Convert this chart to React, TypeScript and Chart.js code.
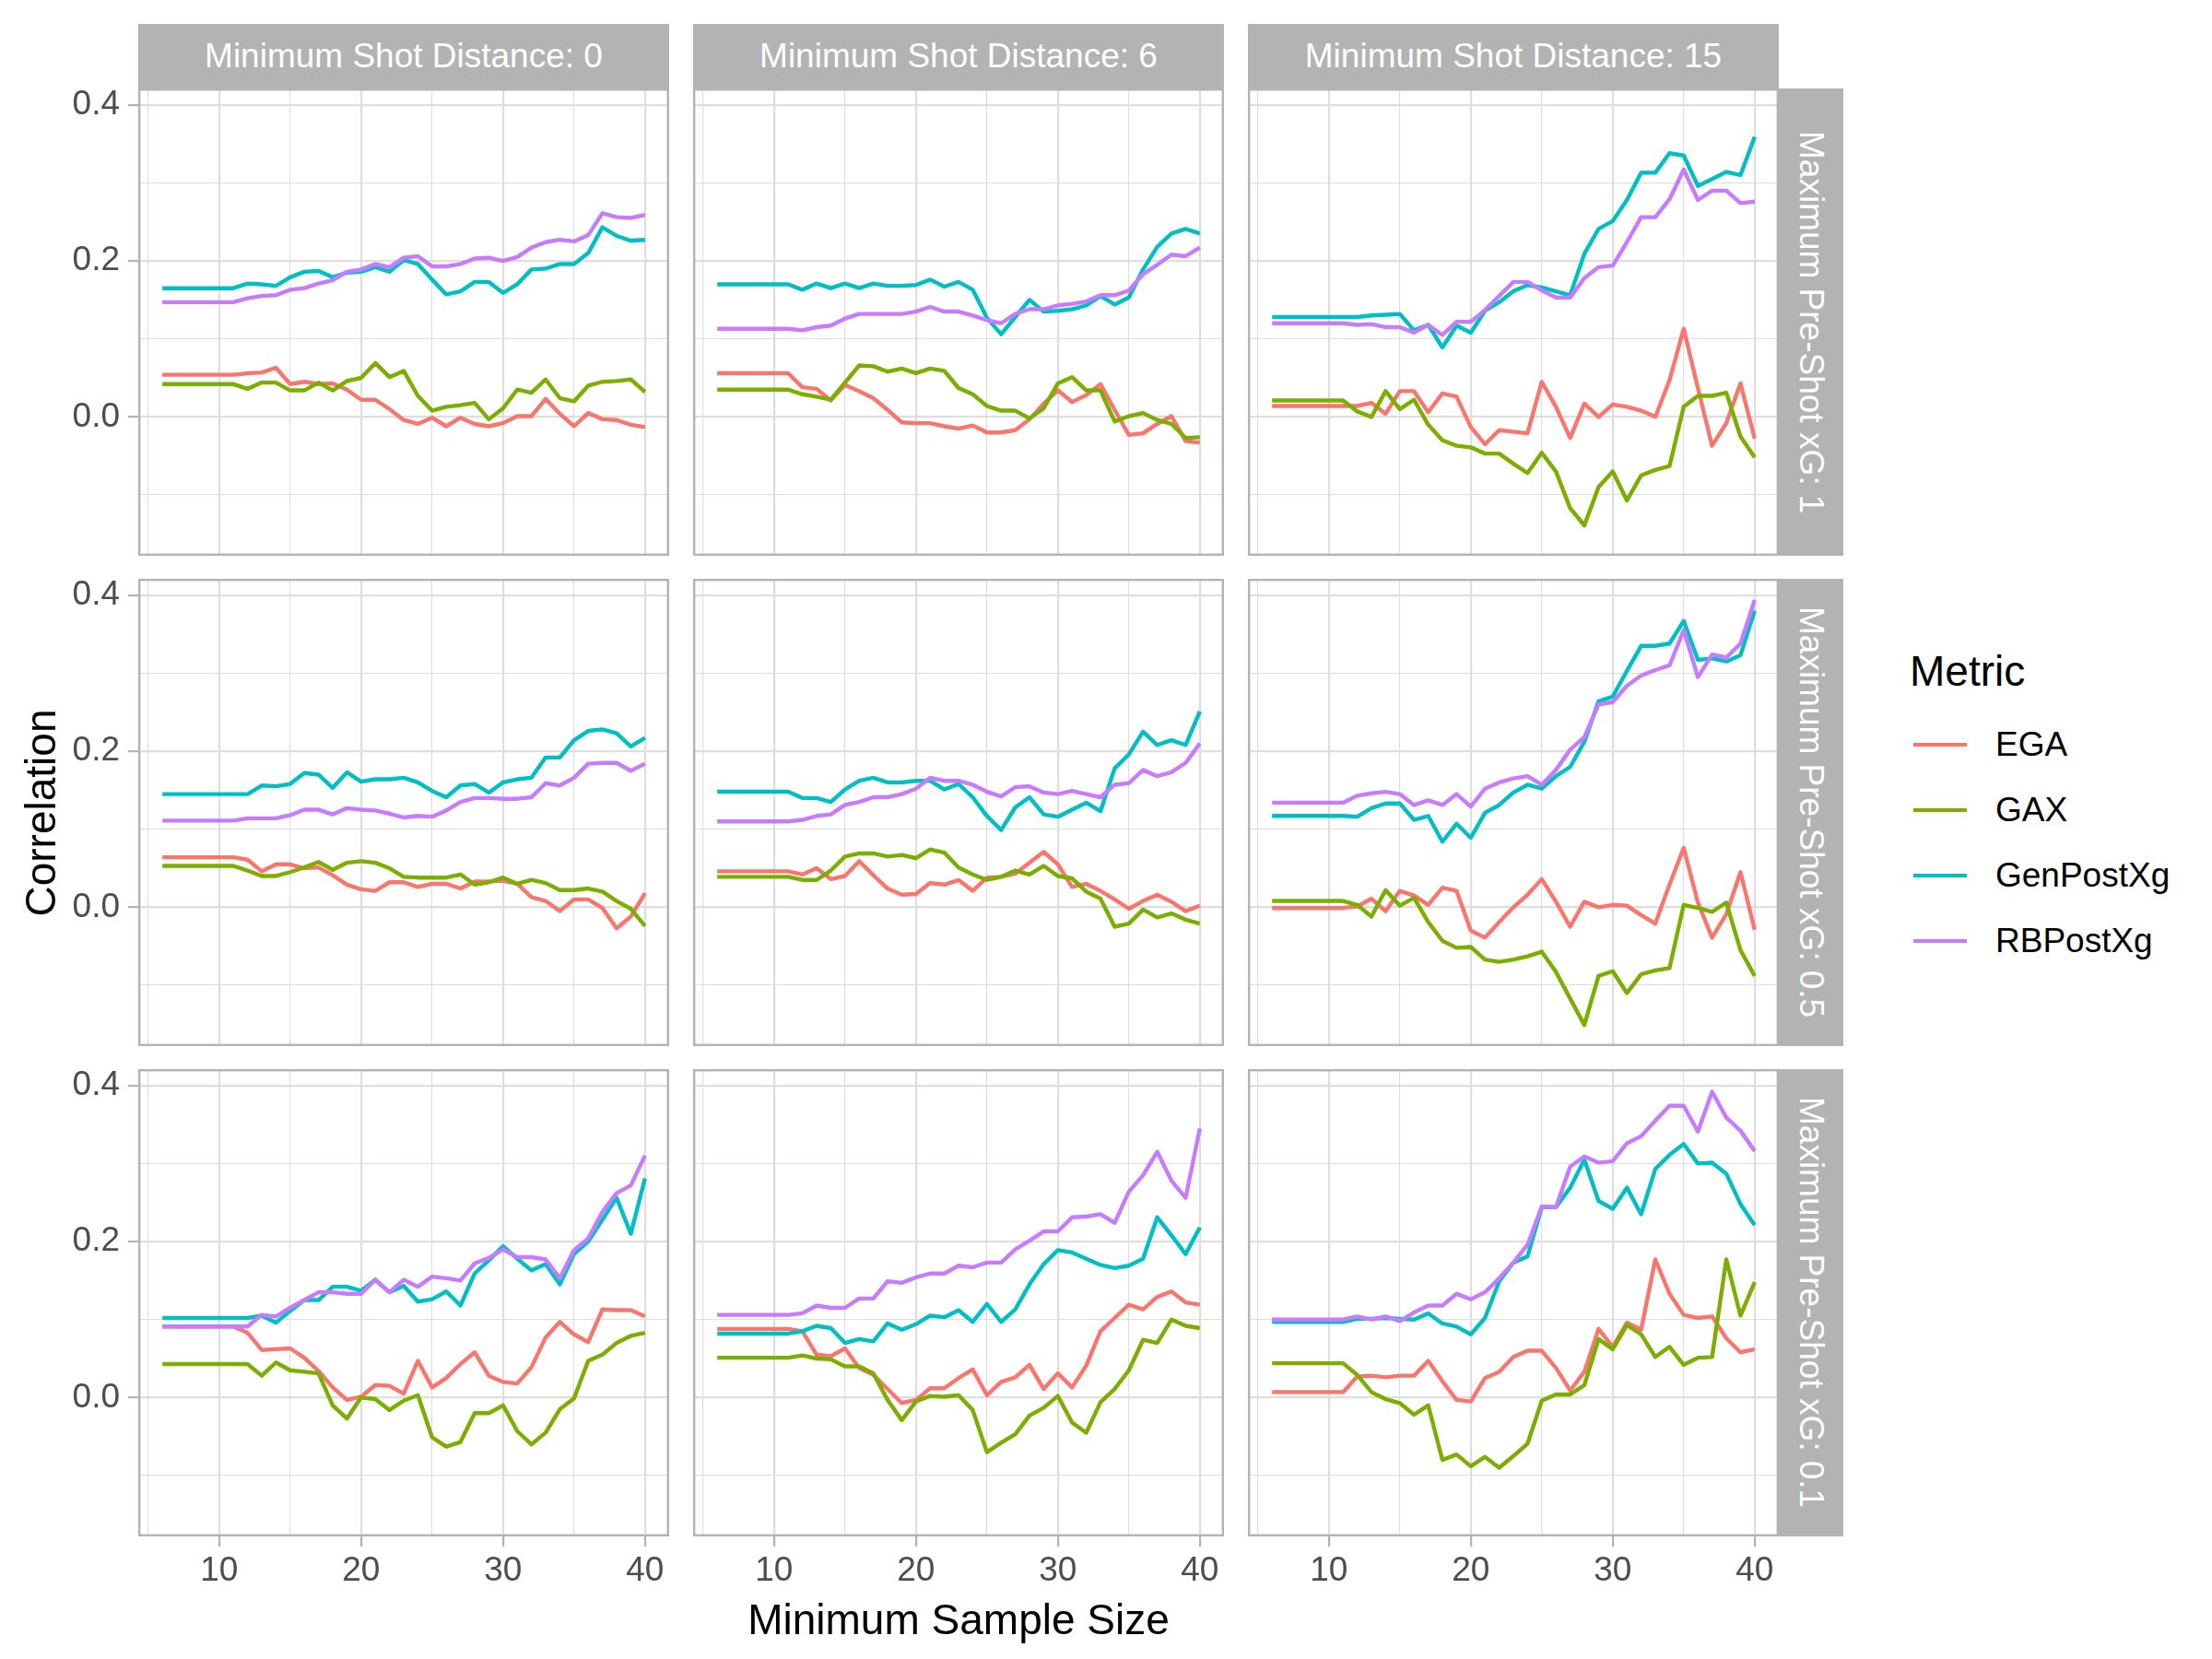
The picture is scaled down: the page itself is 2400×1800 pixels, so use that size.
import React, { useEffect, useRef } from 'react';
import Chart from 'chart.js/auto';

// categories / facets
const METRICS = ['EGA', 'GAX', 'GenPostXg', 'RBPostXg'];
const COLORS = ['#F8766D', '#7CAE00', '#00BFC4', '#C77CFF'];
const SHOT_DISTANCES = ['0', '6', '15'];
const PRE_SHOT_XG = ['1', '0.5', '0.1'];
const SAMPLE_SIZES = [6, 7, 8, 9, 10, 11, 12, 13, 14, 15, 16, 17, 18, 19, 20, 21, 22, 23, 24, 25, 26, 27, 28, 29, 30, 31, 32, 33, 34, 35, 36, 37, 38, 39, 40];
const X_TICKS = [5, 10, 15, 20, 25, 30, 35, 40];
const Y_TICKS = [-0.1, 0, 0.1, 0.2, 0.3, 0.4];
const X_RANGE = [4.3, 41.7];
const Y_RANGE = [-0.178, 0.421];

// Max pre-shot xG 1
const EGA_XG1_D0 = [0.054, 0.054, 0.054, 0.054, 0.054, 0.054, 0.056, 0.057, 0.063, 0.042, 0.045, 0.042, 0.043, 0.035, 0.022, 0.022, 0.010, -0.004, -0.009, -0.001, -0.012, -0.001, -0.009, -0.012, -0.008, 0.001, 0.001, 0.023, 0.004, -0.012, 0.005, -0.003, -0.004, -0.010, -0.013];
const GAX_XG1_D0 = [0.042, 0.042, 0.042, 0.042, 0.042, 0.042, 0.036, 0.044, 0.044, 0.034, 0.034, 0.044, 0.034, 0.046, 0.050, 0.069, 0.051, 0.059, 0.027, 0.008, 0.013, 0.015, 0.018, -0.003, 0.011, 0.035, 0.031, 0.048, 0.024, 0.020, 0.040, 0.045, 0.046, 0.048, 0.032];
const GEN_XG1_D0 = [0.165, 0.165, 0.165, 0.165, 0.165, 0.165, 0.171, 0.170, 0.168, 0.179, 0.186, 0.187, 0.179, 0.185, 0.186, 0.192, 0.186, 0.201, 0.196, 0.176, 0.157, 0.161, 0.173, 0.173, 0.159, 0.170, 0.189, 0.190, 0.196, 0.196, 0.210, 0.243, 0.232, 0.226, 0.227];
const RB_XG1_D0 = [0.147, 0.147, 0.147, 0.147, 0.147, 0.147, 0.152, 0.155, 0.156, 0.163, 0.165, 0.171, 0.175, 0.186, 0.189, 0.196, 0.192, 0.204, 0.206, 0.193, 0.193, 0.196, 0.203, 0.204, 0.200, 0.205, 0.217, 0.224, 0.227, 0.225, 0.233, 0.261, 0.256, 0.255, 0.259];

const EGA_XG1_D6 = [0.056, 0.056, 0.056, 0.056, 0.056, 0.056, 0.038, 0.036, 0.021, 0.041, 0.033, 0.024, 0.009, -0.007, -0.008, -0.008, -0.012, -0.015, -0.011, -0.020, -0.020, -0.017, -0.003, 0.017, 0.034, 0.019, 0.028, 0.042, 0.009, -0.023, -0.021, -0.009, 0.001, -0.031, -0.033];
const GAX_XG1_D6 = [0.035, 0.035, 0.035, 0.035, 0.035, 0.035, 0.029, 0.026, 0.022, 0.044, 0.066, 0.065, 0.058, 0.062, 0.056, 0.062, 0.059, 0.037, 0.029, 0.014, 0.008, 0.008, -0.002, 0.011, 0.043, 0.051, 0.034, 0.034, -0.006, 0.001, 0.005, -0.004, -0.009, -0.027, -0.026];
const GEN_XG1_D6 = [0.170, 0.170, 0.170, 0.170, 0.170, 0.170, 0.163, 0.171, 0.165, 0.171, 0.165, 0.171, 0.168, 0.168, 0.169, 0.176, 0.167, 0.173, 0.163, 0.127, 0.106, 0.128, 0.150, 0.135, 0.136, 0.138, 0.143, 0.155, 0.144, 0.153, 0.189, 0.218, 0.235, 0.241, 0.235];
const RB_XG1_D6 = [0.113, 0.113, 0.113, 0.113, 0.113, 0.113, 0.111, 0.115, 0.117, 0.126, 0.132, 0.132, 0.132, 0.132, 0.135, 0.141, 0.135, 0.135, 0.130, 0.124, 0.120, 0.132, 0.138, 0.138, 0.143, 0.145, 0.148, 0.156, 0.156, 0.162, 0.183, 0.195, 0.208, 0.206, 0.217];

const EGA_XG1_D15 = [0.014, 0.014, 0.014, 0.014, 0.014, 0.014, 0.014, 0.018, 0.004, 0.033, 0.033, 0.006, 0.030, 0.026, -0.013, -0.035, -0.017, -0.019, -0.021, 0.045, 0.013, -0.027, 0.017, 0.000, 0.016, 0.013, 0.008, 0.000, 0.047, 0.113, 0.037, -0.037, -0.008, 0.043, -0.028];
const GAX_XG1_D15 = [0.021, 0.021, 0.021, 0.021, 0.021, 0.021, 0.007, 0.000, 0.033, 0.010, 0.022, -0.010, -0.030, -0.037, -0.039, -0.047, -0.047, -0.060, -0.072, -0.046, -0.070, -0.117, -0.139, -0.090, -0.070, -0.107, -0.075, -0.068, -0.063, 0.013, 0.027, 0.027, 0.031, -0.025, -0.052];
const GEN_XG1_D15 = [0.128, 0.128, 0.128, 0.128, 0.128, 0.128, 0.128, 0.130, 0.131, 0.132, 0.111, 0.118, 0.089, 0.117, 0.108, 0.136, 0.147, 0.161, 0.169, 0.166, 0.161, 0.156, 0.209, 0.241, 0.251, 0.278, 0.313, 0.313, 0.338, 0.335, 0.296, 0.305, 0.314, 0.310, 0.359];
const RB_XG1_D15 = [0.120, 0.120, 0.120, 0.120, 0.120, 0.120, 0.118, 0.119, 0.115, 0.115, 0.108, 0.118, 0.105, 0.122, 0.122, 0.137, 0.155, 0.173, 0.173, 0.162, 0.153, 0.153, 0.178, 0.192, 0.194, 0.224, 0.256, 0.256, 0.279, 0.317, 0.278, 0.290, 0.290, 0.274, 0.276];

// Max pre-shot xG 0.5
const EGA_XG05_D0 = [0.064, 0.064, 0.064, 0.064, 0.064, 0.064, 0.061, 0.046, 0.055, 0.055, 0.050, 0.051, 0.041, 0.029, 0.023, 0.021, 0.032, 0.032, 0.026, 0.030, 0.030, 0.024, 0.033, 0.033, 0.034, 0.030, 0.013, 0.008, -0.005, 0.010, 0.010, -0.001, -0.027, -0.012, 0.018];
const GAX_XG05_D0 = [0.053, 0.053, 0.053, 0.053, 0.053, 0.053, 0.047, 0.040, 0.040, 0.045, 0.051, 0.058, 0.048, 0.057, 0.059, 0.057, 0.050, 0.039, 0.038, 0.038, 0.038, 0.042, 0.029, 0.032, 0.038, 0.030, 0.035, 0.031, 0.022, 0.022, 0.024, 0.020, 0.008, -0.002, -0.024];
const GEN_XG05_D0 = [0.145, 0.145, 0.145, 0.145, 0.145, 0.145, 0.145, 0.156, 0.155, 0.158, 0.172, 0.170, 0.153, 0.173, 0.161, 0.164, 0.164, 0.166, 0.160, 0.149, 0.141, 0.156, 0.158, 0.147, 0.160, 0.164, 0.166, 0.192, 0.192, 0.214, 0.226, 0.228, 0.223, 0.206, 0.217];
const RB_XG05_D0 = [0.111, 0.111, 0.111, 0.111, 0.111, 0.111, 0.114, 0.114, 0.114, 0.118, 0.125, 0.125, 0.119, 0.127, 0.125, 0.124, 0.120, 0.115, 0.117, 0.116, 0.124, 0.135, 0.140, 0.140, 0.139, 0.139, 0.141, 0.159, 0.156, 0.166, 0.184, 0.185, 0.185, 0.175, 0.184];

const EGA_XG05_D6 = [0.046, 0.046, 0.046, 0.046, 0.046, 0.046, 0.042, 0.050, 0.036, 0.040, 0.059, 0.041, 0.024, 0.016, 0.017, 0.031, 0.029, 0.035, 0.021, 0.038, 0.039, 0.043, 0.057, 0.071, 0.055, 0.026, 0.030, 0.021, 0.010, -0.002, 0.008, 0.016, 0.007, -0.005, 0.002];
const GAX_XG05_D6 = [0.039, 0.039, 0.039, 0.039, 0.039, 0.039, 0.035, 0.035, 0.047, 0.065, 0.069, 0.069, 0.065, 0.067, 0.063, 0.074, 0.070, 0.051, 0.042, 0.035, 0.039, 0.047, 0.042, 0.053, 0.040, 0.037, 0.020, 0.011, -0.025, -0.021, -0.003, -0.013, -0.008, -0.016, -0.021];
const GEN_XG05_D6 = [0.148, 0.148, 0.148, 0.148, 0.148, 0.148, 0.140, 0.140, 0.135, 0.151, 0.162, 0.166, 0.160, 0.160, 0.162, 0.162, 0.151, 0.158, 0.141, 0.117, 0.099, 0.128, 0.141, 0.119, 0.116, 0.125, 0.134, 0.123, 0.178, 0.196, 0.225, 0.208, 0.214, 0.208, 0.251];
const RB_XG05_D6 = [0.110, 0.110, 0.110, 0.110, 0.110, 0.110, 0.112, 0.117, 0.119, 0.131, 0.135, 0.141, 0.141, 0.145, 0.152, 0.166, 0.162, 0.162, 0.157, 0.148, 0.142, 0.154, 0.155, 0.147, 0.145, 0.149, 0.145, 0.141, 0.157, 0.159, 0.176, 0.168, 0.173, 0.185, 0.210];

const EGA_XG05_D15 = [-0.001, -0.001, -0.001, -0.001, -0.001, -0.001, 0.001, 0.011, -0.005, 0.021, 0.015, 0.003, 0.025, 0.021, -0.030, -0.039, -0.019, 0.000, 0.016, 0.036, 0.007, -0.025, 0.007, 0.000, 0.003, 0.002, -0.010, -0.021, 0.029, 0.076, 0.006, -0.039, -0.009, 0.045, -0.029];
const GAX_XG05_D15 = [0.008, 0.008, 0.008, 0.008, 0.008, 0.008, 0.003, -0.012, 0.022, 0.002, 0.012, -0.019, -0.043, -0.052, -0.051, -0.067, -0.070, -0.067, -0.063, -0.057, -0.083, -0.117, -0.151, -0.088, -0.082, -0.110, -0.086, -0.081, -0.078, 0.003, -0.001, -0.006, 0.006, -0.055, -0.088];
const GEN_XG05_D15 = [0.117, 0.117, 0.117, 0.117, 0.117, 0.117, 0.116, 0.127, 0.133, 0.133, 0.112, 0.117, 0.084, 0.107, 0.089, 0.121, 0.131, 0.147, 0.157, 0.152, 0.168, 0.180, 0.212, 0.264, 0.270, 0.303, 0.335, 0.335, 0.338, 0.367, 0.317, 0.319, 0.315, 0.323, 0.380];
const RB_XG05_D15 = [0.134, 0.134, 0.134, 0.134, 0.134, 0.134, 0.143, 0.146, 0.148, 0.145, 0.131, 0.137, 0.131, 0.145, 0.129, 0.152, 0.160, 0.165, 0.168, 0.157, 0.176, 0.202, 0.218, 0.260, 0.263, 0.284, 0.297, 0.304, 0.310, 0.355, 0.295, 0.324, 0.320, 0.338, 0.394];

// Max pre-shot xG 0.1
const EGA_XG01_D0 = [0.091, 0.091, 0.091, 0.091, 0.091, 0.091, 0.083, 0.061, 0.062, 0.063, 0.051, 0.034, 0.013, -0.003, 0.001, 0.016, 0.015, 0.005, 0.047, 0.013, 0.025, 0.043, 0.058, 0.028, 0.020, 0.018, 0.039, 0.077, 0.097, 0.081, 0.071, 0.113, 0.112, 0.112, 0.104];
const GAX_XG01_D0 = [0.043, 0.043, 0.043, 0.043, 0.043, 0.043, 0.043, 0.028, 0.045, 0.035, 0.033, 0.031, -0.010, -0.027, 0.000, -0.002, -0.016, -0.004, 0.003, -0.051, -0.063, -0.057, -0.020, -0.020, -0.010, -0.043, -0.060, -0.045, -0.015, -0.001, 0.047, 0.055, 0.070, 0.079, 0.083];
const GEN_XG01_D0 = [0.102, 0.102, 0.102, 0.102, 0.102, 0.102, 0.102, 0.105, 0.096, 0.111, 0.125, 0.125, 0.142, 0.142, 0.137, 0.151, 0.135, 0.143, 0.123, 0.126, 0.136, 0.118, 0.159, 0.176, 0.194, 0.178, 0.163, 0.171, 0.145, 0.184, 0.200, 0.228, 0.256, 0.210, 0.281];
const RB_XG01_D0 = [0.091, 0.091, 0.091, 0.091, 0.091, 0.091, 0.091, 0.106, 0.104, 0.115, 0.125, 0.135, 0.135, 0.133, 0.133, 0.151, 0.135, 0.151, 0.142, 0.155, 0.153, 0.150, 0.172, 0.179, 0.190, 0.180, 0.180, 0.177, 0.153, 0.189, 0.204, 0.238, 0.262, 0.272, 0.310];

const EGA_XG01_D6 = [0.088, 0.088, 0.088, 0.088, 0.088, 0.088, 0.085, 0.055, 0.053, 0.063, 0.038, 0.029, 0.011, -0.007, -0.003, 0.012, 0.012, 0.025, 0.036, 0.003, 0.020, 0.026, 0.042, 0.011, 0.031, 0.013, 0.041, 0.085, 0.102, 0.119, 0.113, 0.129, 0.136, 0.122, 0.119];
const GAX_XG01_D6 = [0.051, 0.051, 0.051, 0.051, 0.051, 0.051, 0.054, 0.050, 0.049, 0.040, 0.040, 0.031, -0.003, -0.029, -0.005, 0.002, 0.001, 0.003, -0.016, -0.070, -0.058, -0.047, -0.023, -0.013, 0.002, -0.032, -0.045, -0.006, 0.011, 0.035, 0.074, 0.070, 0.100, 0.092, 0.089];
const GEN_XG01_D6 = [0.082, 0.082, 0.082, 0.082, 0.082, 0.082, 0.085, 0.092, 0.089, 0.070, 0.075, 0.072, 0.095, 0.087, 0.094, 0.105, 0.103, 0.112, 0.097, 0.120, 0.097, 0.113, 0.145, 0.171, 0.189, 0.186, 0.178, 0.170, 0.166, 0.169, 0.178, 0.231, 0.208, 0.184, 0.218];
const RB_XG01_D6 = [0.106, 0.106, 0.106, 0.106, 0.106, 0.106, 0.108, 0.118, 0.115, 0.115, 0.127, 0.127, 0.149, 0.147, 0.154, 0.159, 0.159, 0.169, 0.167, 0.173, 0.173, 0.190, 0.201, 0.213, 0.213, 0.231, 0.232, 0.235, 0.224, 0.264, 0.285, 0.315, 0.278, 0.256, 0.345];

const EGA_XG01_D15 = [0.007, 0.007, 0.007, 0.007, 0.007, 0.007, 0.027, 0.028, 0.026, 0.028, 0.028, 0.047, 0.021, -0.003, -0.005, 0.025, 0.033, 0.052, 0.060, 0.060, 0.038, 0.009, 0.033, 0.088, 0.065, 0.096, 0.087, 0.177, 0.133, 0.106, 0.102, 0.104, 0.076, 0.058, 0.062];
const GAX_XG01_D15 = [0.044, 0.044, 0.044, 0.044, 0.044, 0.044, 0.029, 0.007, -0.002, -0.007, -0.022, -0.010, -0.080, -0.073, -0.088, -0.076, -0.090, -0.075, -0.059, -0.004, 0.004, 0.004, 0.016, 0.075, 0.062, 0.093, 0.081, 0.052, 0.065, 0.042, 0.051, 0.052, 0.177, 0.105, 0.148];
const GEN_XG01_D15 = [0.097, 0.097, 0.097, 0.097, 0.097, 0.097, 0.101, 0.101, 0.102, 0.101, 0.100, 0.108, 0.095, 0.091, 0.081, 0.102, 0.149, 0.173, 0.181, 0.244, 0.244, 0.269, 0.305, 0.252, 0.242, 0.269, 0.235, 0.293, 0.311, 0.325, 0.300, 0.301, 0.287, 0.248, 0.221];
const RB_XG01_D15 = [0.100, 0.100, 0.100, 0.100, 0.100, 0.100, 0.104, 0.100, 0.104, 0.098, 0.109, 0.118, 0.118, 0.133, 0.126, 0.135, 0.153, 0.173, 0.196, 0.245, 0.244, 0.296, 0.309, 0.301, 0.303, 0.326, 0.335, 0.355, 0.374, 0.374, 0.341, 0.392, 0.359, 0.342, 0.316];

// rows = pre-shot xG, cols = shot distance, inner = METRICS order
const PANELS = [
  [
    [EGA_XG1_D0, GAX_XG1_D0, GEN_XG1_D0, RB_XG1_D0],
    [EGA_XG1_D6, GAX_XG1_D6, GEN_XG1_D6, RB_XG1_D6],
    [EGA_XG1_D15, GAX_XG1_D15, GEN_XG1_D15, RB_XG1_D15],
  ],
  [
    [EGA_XG05_D0, GAX_XG05_D0, GEN_XG05_D0, RB_XG05_D0],
    [EGA_XG05_D6, GAX_XG05_D6, GEN_XG05_D6, RB_XG05_D6],
    [EGA_XG05_D15, GAX_XG05_D15, GEN_XG05_D15, RB_XG05_D15],
  ],
  [
    [EGA_XG01_D0, GAX_XG01_D0, GEN_XG01_D0, RB_XG01_D0],
    [EGA_XG01_D6, GAX_XG01_D6, GEN_XG01_D6, RB_XG01_D6],
    [EGA_XG01_D15, GAX_XG01_D15, GEN_XG01_D15, RB_XG01_D15],
  ],
];

// layout (px)
const FONT = '"Liberation Sans", Arial, Helvetica, sans-serif';
const COL_X = [150, 752, 1354];
const ROW_Y = [96, 628, 1160];
const PANEL_W = 576;
const PANEL_H = 507;
const STRIP = 70;
const Y_AXIS_W = 150;
const X_AXIS_H = 90;
const GRID = '#DEDEDE';
const BORDER = '#B3B3B3';

const panelBorder = {
  id: 'panelBorder',
  afterDatasetsDraw(chart: any) {
    const { ctx, chartArea } = chart;
    const { left, top, right, bottom } = chartArea;
    ctx.save();
    ctx.strokeStyle = BORDER;
    ctx.lineWidth = 2.4;
    ctx.strokeRect(left + 1.2, top + 1.2, right - left - 2.4, bottom - top - 2.4);
    ctx.restore();
  },
};

const isMajorX = (v: number) => Math.round(v) % 10 === 0;
const isMajorY = (v: number) => Math.round(v * 10) % 2 === 0;

function Panel({ row, col }: { row: number; col: number }) {
  const canvasRef = useRef<HTMLCanvasElement>(null);
  const showY = col === 0;
  const showX = row === PANELS.length - 1;
  const width = PANEL_W + (showY ? Y_AXIS_W : 0);
  const height = PANEL_H + (showX ? X_AXIS_H : 0);

  useEffect(() => {
    if (!canvasRef.current) return;
    const series = PANELS[row][col];
    const tickFont = { family: FONT, size: 37, lineHeight: 1 };

    const chart = new Chart(canvasRef.current, {
      type: 'line',
      data: {
        datasets: METRICS.map((name, i) => ({
          label: name,
          data: SAMPLE_SIZES.map((x, j) => ({ x, y: series[i][j] })),
          borderColor: COLORS[i],
          backgroundColor: COLORS[i],
          borderWidth: 4.4,
          borderJoinStyle: 'round' as const,
          pointRadius: 0,
          tension: 0,
          order: METRICS.length - i,
        })),
      },
      options: {
        animation: false,
        responsive: false,
        devicePixelRatio: 1,
        layout: { padding: 0 },
        events: [],
        plugins: { legend: { display: false }, tooltip: { enabled: false } },
        scales: {
          x: {
            type: 'linear',
            min: X_RANGE[0],
            max: X_RANGE[1],
            afterBuildTicks: (axis: any) => {
              axis.ticks = X_TICKS.map((v) => ({ value: v }));
            },
            afterFit: (axis: any) => {
              axis.height = showX ? X_AXIS_H : 0;
              axis.paddingLeft = 0;
              axis.paddingRight = 0;
              axis.paddingTop = 0;
              axis.paddingBottom = 0;
            },
            border: { display: false },
            grid: {
              color: GRID,
              lineWidth: (ctx: any) => (isMajorX(ctx.tick.value) ? 2.2 : 1.1),
              drawTicks: showX,
              tickLength: 11,
              tickWidth: 2.2,
              tickColor: (ctx: any) => (isMajorX(ctx.tick.value) ? BORDER : 'rgba(0,0,0,0)'),
            },
            ticks: {
              display: showX,
              autoSkip: false,
              maxRotation: 0,
              minRotation: 0,
              padding: 8,
              color: '#4D4D4D',
              font: tickFont,
              callback: (v: any) => (isMajorX(Number(v)) ? String(v) : ''),
            },
          },
          y: {
            type: 'linear',
            min: Y_RANGE[0],
            max: Y_RANGE[1],
            afterBuildTicks: (axis: any) => {
              axis.ticks = Y_TICKS.map((v) => ({ value: v }));
            },
            afterFit: (axis: any) => {
              axis.width = showY ? Y_AXIS_W : 0;
              axis.paddingLeft = 0;
              axis.paddingRight = 0;
              axis.paddingTop = 0;
              axis.paddingBottom = 0;
            },
            border: { display: false },
            grid: {
              color: GRID,
              lineWidth: (ctx: any) => (isMajorY(ctx.tick.value) ? 2.2 : 1.1),
              drawTicks: showY,
              tickLength: 11,
              tickWidth: 2.2,
              tickColor: (ctx: any) => (isMajorY(ctx.tick.value) ? BORDER : 'rgba(0,0,0,0)'),
            },
            ticks: {
              display: showY,
              autoSkip: false,
              padding: 9,
              color: '#4D4D4D',
              font: tickFont,
              callback: (v: any) => (isMajorY(Number(v)) ? Number(v).toFixed(1) : ''),
            },
          },
        },
      },
      plugins: [panelBorder],
    });

    return () => {
      chart.destroy();
    };
  }, [row, col, showX, showY]);

  return (
    <canvas
      ref={canvasRef}
      width={width}
      height={height}
      style={{
        position: 'absolute',
        left: COL_X[col] - (showY ? Y_AXIS_W : 0),
        top: ROW_Y[row],
        width,
        height,
      }}
    />
  );
}

const stripStyle: React.CSSProperties = {
  position: 'absolute',
  background: BORDER,
  color: '#FFFFFF',
  fontFamily: FONT,
  fontSize: 37,
  display: 'flex',
  alignItems: 'center',
  justifyContent: 'center',
  whiteSpace: 'nowrap',
};

export default function App() {
  const plotLeft = COL_X[0];
  const plotRight = COL_X[2] + PANEL_W;
  const plotTop = ROW_Y[0];
  const plotBottom = ROW_Y[2] + PANEL_H;

  return (
    <div
      style={{
        position: 'absolute',
        left: 0,
        top: 0,
        width: 2400,
        height: 1800,
        background: '#FFFFFF',
        overflow: 'hidden',
        fontFamily: FONT,
      }}
    >
      {PRE_SHOT_XG.map((_, r) =>
        SHOT_DISTANCES.map((__, c) => <Panel key={`${r}-${c}`} row={r} col={c} />)
      )}

      {SHOT_DISTANCES.map((d, c) => (
        <div
          key={`top-${d}`}
          style={{ ...stripStyle, left: COL_X[c], top: ROW_Y[0] - STRIP, width: PANEL_W, height: STRIP }}
        >
          {`Minimum Shot Distance: ${d}`}
        </div>
      ))}

      {PRE_SHOT_XG.map((xg, r) => (
        <div
          key={`right-${xg}`}
          style={{ ...stripStyle, left: plotRight, top: ROW_Y[r], width: STRIP, height: PANEL_H }}
        >
          <span style={{ writingMode: 'vertical-rl' }}>{`Maximum Pre-Shot xG: ${xg}`}</span>
        </div>
      ))}

      {/* axis titles */}
      <div
        style={{
          position: 'absolute',
          left: 44 - 300,
          top: (plotTop + plotBottom) / 2 - 30,
          width: 600,
          height: 60,
          lineHeight: '60px',
          textAlign: 'center',
          fontSize: 46,
          color: '#000',
          transform: 'rotate(-90deg)',
        }}
      >
        Correlation
      </div>
      <div
        style={{
          position: 'absolute',
          left: (plotLeft + plotRight) / 2 - 400,
          top: 1757 - 30,
          width: 800,
          height: 60,
          lineHeight: '60px',
          textAlign: 'center',
          fontSize: 46,
          color: '#000',
        }}
      >
        Minimum Sample Size
      </div>

      {/* legend */}
      <div style={{ position: 'absolute', left: 2072, top: 700, fontSize: 46, lineHeight: '56px', color: '#000' }}>
        Metric
      </div>
      {METRICS.map((m, i) => (
        <div
          key={m}
          style={{ position: 'absolute', left: 2069, top: 772 + i * 71, height: 72, display: 'flex', alignItems: 'center' }}
        >
          <div style={{ width: 72, height: 72, display: 'flex', alignItems: 'center', justifyContent: 'center' }}>
            <div style={{ width: 58, height: 4.4, background: COLORS[i] }} />
          </div>
          <div style={{ marginLeft: 24, fontSize: 37, color: '#000', whiteSpace: 'nowrap' }}>{m}</div>
        </div>
      ))}
    </div>
  );
}
